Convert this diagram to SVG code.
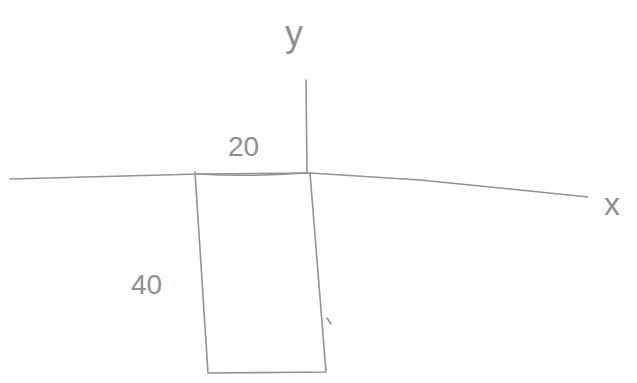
<svg xmlns="http://www.w3.org/2000/svg" width="637" height="383" viewBox="0 0 637 383">
<style>
.ln{fill:none;stroke:#939393;stroke-width:1.6;stroke-linecap:round;stroke-linejoin:round}
.lb{font-family:"Liberation Sans",Arial,sans-serif;fill:#909090}
</style>
<rect width="637" height="383" fill="#ffffff"/>
<g id="connectors">
<path id="x-axis" class="ln" d="M10,179 L200,174 L310,173 L420,180 L520,190 L588,197"/>
<path id="y-axis" class="ln" d="M306,80 L307,173"/>
</g>
<g id="rectangle">
<path class="ln" d="M195,172 L208,373 L326,372 L310,173"/>
<path class="ln" d="M198,174 Q250,177 305,173" stroke-width="2.6" stroke="#7f7f7f"/>
<path class="ln" d="M327,318 L331,324" stroke-width="1.2"/>
</g>
<g id="labels">
<text class="lb" x="285" y="46" font-size="36">y</text>
<text class="lb" x="228" y="156" font-size="28">20</text>
<text class="lb" x="131" y="294" font-size="28">40</text>
<text class="lb" x="604" y="215" font-size="32">x</text>
</g>
</svg>
